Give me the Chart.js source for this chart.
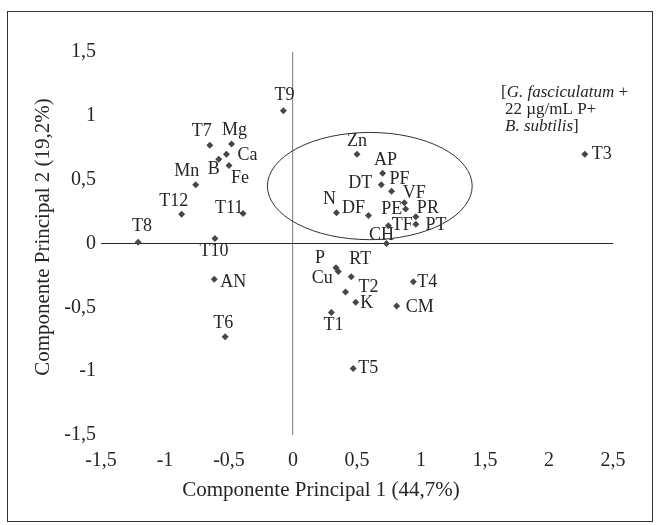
<!DOCTYPE html>
<html lang="pt">
<head>
  <meta charset="UTF-8">
  <title>Componentes Principais</title>
  <script src="https://cdn.jsdelivr.net/npm/chart.js"></script>
  <style>
    html, body { margin: 0; padding: 0; background: #fff; }
    #wrap { position: relative; width: 657px; height: 525px; }
  </style>
</head>
<body>
  <div id="wrap"><canvas id="grafico" width="657" height="525"></canvas></div>

  <script>
    // dados
    const nomes = ["T1", "T2", "T3", "T4", "T5", "T6", "T7", "T8", "T9", "T10", "T11", "T12",
      "Mg", "Ca", "B", "Fe", "Mn", "Zn", "AP", "DT", "PF", "VF", "PE", "N", "DF", "PR", "PT",
      "TF", "CH", "P", "Cu", "RT", "K", "CM", "AN"];
    const cp1 = [0.30, 0.41, 2.28, 0.94, 0.47, -0.53, -0.65, -1.21, -0.075, -0.61, -0.39, -0.87,
      -0.48, -0.52, -0.58, -0.50, -0.76, 0.50, 0.70, 0.69, 0.77, 0.87, 0.88, 0.34, 0.59, 0.96, 0.96,
      0.745, 0.73, 0.336, 0.354, 0.455, 0.49, 0.81, -0.615];
    const cp2 = [-0.54, -0.38, 0.70, -0.30, -0.98, -0.73, 0.77, 0.01, 1.04, 0.04, 0.235, 0.23,
      0.78, 0.70, 0.66, 0.61, 0.46, 0.70, 0.55, 0.46, 0.41, 0.32, 0.27, 0.24, 0.22, 0.21, 0.15,
      0.14, 0.00, -0.19, -0.22, -0.26, -0.46, -0.49, -0.28];
    const ticksX = [-1.5, -1, -0.5, 0, 0.5, 1, 1.5, 2, 2.5];
    const ticksY = [-1.5, -1, -0.5, 0, 0.5, 1, 1.5];
    const tituloX = "Componente Principal 1 (44,7%)";
    const tituloY = "Componente Principal 2 (19,2%)";
    // elipse: centro e raios em unidades dos eixos
    const elipse = { cx: 0.60, cy: 0.45, rx: 0.80, ry: 0.42 };

    // onde fica cada rótulo em relação ao ponto (px)
    const posRotulo = {
      T1: [2, 13], T2: [23, -5], T3: [17, 0], T4: [14, 0], T5: [15, 0], T6: [-2, -13],
      T7: [-8, -14], T8: [4, -16], T9: [1, -15], T10: [-1, 13], T11: [-14, -5], T12: [-8, -13],
      Mg: [3, -14], Ca: [21, 1], B: [-5, 10], Fe: [11, 13], Mn: [-9, -14], Zn: [0, -13],
      AP: [3, -13], DT: [-21, -2], PF: [8, -12], VF: [10, -9], PE: [-14, 0], N: [-7, -14],
      DF: [-15, -7], PR: [12, -8], PT: [20, 1], TF: [14, 0], CH: [-5, -8], P: [-16, -9],
      Cu: [-16, 7], RT: [9, -17], K: [11, 1], CM: [23, 1], AN: [19, 3]
    };

    const fonte = "'Liberation Serif', 'DejaVu Serif', serif";
    const corTexto = "#262626";
    const virgula = v => String(v).replace('.', ',');

    const rotulos = {
      id: 'rotulos',
      afterDatasetsDraw(chart) {
        const ctx = chart.ctx;
        const meta = chart.getDatasetMeta(0);
        ctx.save();
        ctx.font = "18px " + fonte;
        ctx.fillStyle = corTexto;
        ctx.textAlign = "center";
        ctx.textBaseline = "middle";
        meta.data.forEach((p, i) => {
          const d = posRotulo[nomes[i]] || [12, 0];
          ctx.fillText(nomes[i], p.x + d[0], p.y + d[1]);
        });
        ctx.restore();
      }
    };

    const extras = {
      id: 'extras',
      beforeDraw(chart) {
        const ctx = chart.ctx;
        ctx.save();
        ctx.fillStyle = "#fff";
        ctx.fillRect(0, 0, chart.width, chart.height);
        ctx.strokeStyle = "#333";
        ctx.lineWidth = 1;
        ctx.strokeRect(7.5, 11.5, 645, 510);
        ctx.restore();
      },
      afterDraw(chart) {
        const ctx = chart.ctx;
        const sx = chart.scales.x, sy = chart.scales.y;
        ctx.save();
        // elipse
        const cx = sx.getPixelForValue(elipse.cx), cy = sy.getPixelForValue(elipse.cy);
        const rx = sx.getPixelForValue(elipse.cx + elipse.rx) - cx;
        const ry = cy - sy.getPixelForValue(elipse.cy + elipse.ry);
        ctx.strokeStyle = "#333";
        ctx.lineWidth = 1;
        ctx.beginPath();
        ctx.ellipse(cx, cy, rx, ry, 0, 0, Math.PI * 2);
        ctx.stroke();

        // títulos dos eixos
        ctx.fillStyle = corTexto;
        ctx.font = "21px " + fonte;
        ctx.textAlign = "center";
        ctx.textBaseline = "middle";
        ctx.fillText(tituloX, 321, 490);
        ctx.save();
        ctx.translate(43, 237);
        ctx.rotate(-Math.PI / 2);
        ctx.fillText(tituloY, 0, 0);
        ctx.restore();

        // nota
        ctx.textAlign = "left";
        const partes = [
          [501, [["[", false], ["G. fasciculatum", true], [" +", false]]],
          [505, [["22 µg/mL P+", false]]],
          [505, [["B. subtilis", true], ["]", false]]]
        ];
        partes.forEach(([x0, linha], k) => {
          let px = x0;
          linha.forEach(([t, it]) => {
            ctx.font = (it ? "italic " : "") + "17px " + fonte;
            ctx.fillText(t, px, 93 + k * 17);
            px += ctx.measureText(t).width;
          });
        });
        ctx.restore();
      }
    };

    new Chart(document.getElementById("grafico"), {
      type: 'scatter',
      data: {
        datasets: [{
          data: nomes.map((n, i) => ({ x: cp1[i], y: cp2[i] })),
          pointStyle: 'rectRot',
          pointRadius: 3.5,
          pointHoverRadius: 3.5,
          backgroundColor: '#474747',
          borderWidth: 0
        }]
      },
      options: {
        responsive: false,
        animation: false,
        events: [],
        layout: { padding: { top: 52, right: 44, left: 0, bottom: 0 } },
        plugins: { legend: { display: false }, tooltip: { enabled: false } },
        scales: {
          x: {
            type: 'linear', min: -1.5, max: 2.5,
            afterBuildTicks: s => { s.ticks = ticksX.map(v => ({ value: v })); },
            afterFit: s => { s.height = 90; },
            ticks: { callback: virgula, color: corTexto, font: { family: fonte, size: 20 }, padding: 14, maxRotation: 0 },
            grid: {
              drawTicks: false,
              color: c => (c.tick && c.tick.value === 0) ? '#8c8c8c' : 'rgba(0,0,0,0)',
              lineWidth: 1.2
            },
            border: { display: false }
          },
          y: {
            type: 'linear', min: -1.5, max: 1.5,
            afterBuildTicks: s => { s.ticks = ticksY.map(v => ({ value: v })); },
            afterFit: s => { s.width = 101; },
            ticks: { callback: virgula, color: corTexto, font: { family: fonte, size: 20 }, padding: 5 },
            grid: {
              drawTicks: false,
              color: c => (c.tick && c.tick.value === 0) ? '#262626' : 'rgba(0,0,0,0)',
              lineWidth: 1
            },
            border: { display: false }
          }
        }
      },
      plugins: [extras, rotulos]
    });
  </script>
</body>
</html>
